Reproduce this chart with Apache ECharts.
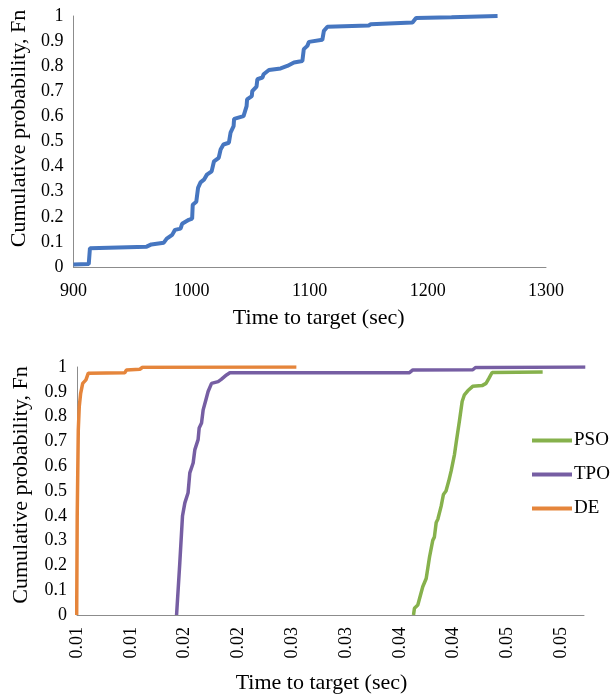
<!DOCTYPE html>
<html>
<head>
<meta charset="utf-8">
<script src="https://cdn.jsdelivr.net/npm/echarts@6/dist/echarts.min.js"></script>
<style>
  html, body { margin: 0; padding: 0; background: #fff; }
  #chart { width: 616px; height: 695px; }
</style>
</head>
<body>
<div id="chart"></div>
<script>
// top panel: single run, time in seconds vs cumulative probability
const topTime = [900, 913, 914, 930, 962, 966, 976.5, 979, 983.6, 986, 990.7, 992, 997.7, 1000.5, 1001, 1004, 1005.5,
  1007.6, 1010.5, 1013, 1017, 1019, 1023, 1024.6, 1027, 1031.6, 1033, 1035.6, 1036, 1044, 1046.6, 1047, 1051, 1051.4,
  1055, 1055.7, 1060, 1061, 1065.5, 1075.4, 1081, 1086.7, 1093.8, 1095, 1098, 1099.4, 1110.7, 1112, 1115, 1150,
  1151.7, 1187, 1190, 1220, 1259];
const topProb = [0.01, 0.012, 0.075, 0.077, 0.081, 0.09, 0.097, 0.113, 0.128, 0.148, 0.153, 0.172, 0.188, 0.193, 0.248,
  0.26, 0.315, 0.337, 0.348, 0.368, 0.381, 0.421, 0.435, 0.468, 0.488, 0.495, 0.535, 0.561, 0.59, 0.601, 0.641, 0.668,
  0.681, 0.701, 0.719, 0.748, 0.755, 0.768, 0.785, 0.791, 0.801, 0.815, 0.821, 0.868, 0.881, 0.897, 0.905, 0.941,
  0.957, 0.962, 0.967, 0.974, 0.992, 0.995, 1.0];

// bottom panel: three algorithms
const psoTime = [0.03826, 0.03835, 0.03866, 0.03912, 0.03944, 0.03975, 0.04005, 0.0402, 0.04037, 0.04052, 0.04083,
  0.04104, 0.04128, 0.04154, 0.04176, 0.04207, 0.04222, 0.04253, 0.04278, 0.04299, 0.0433, 0.04376, 0.04463,
  0.045, 0.04525, 0.04556, 0.05026];
const psoProb = [0, 0.027, 0.04, 0.114, 0.147, 0.234, 0.301, 0.314, 0.373, 0.386, 0.439, 0.486, 0.5, 0.541, 0.581,
  0.648, 0.694, 0.783, 0.861, 0.888, 0.904, 0.922, 0.925, 0.934, 0.953, 0.978, 0.98];

const tpoTime = [0.01625, 0.01655, 0.0168, 0.01702, 0.01732, 0.01748, 0.01779, 0.01795, 0.01825, 0.01835, 0.01857,
  0.01872, 0.01897, 0.01918, 0.0195, 0.02011, 0.0204, 0.02089, 0.0212, 0.03789, 0.0382, 0.04377, 0.04402, 0.05422];
const tpoProb = [0, 0.21, 0.399, 0.452, 0.493, 0.573, 0.613, 0.667, 0.707, 0.754, 0.774, 0.827, 0.867, 0.901, 0.934,
  0.941, 0.95, 0.968, 0.977, 0.977, 0.988, 0.989, 0.998, 1.0];

const deTime = [0.00697, 0.00702, 0.00712, 0.00721, 0.00734, 0.00753, 0.00783, 0.00805, 0.01145, 0.0116, 0.01284,
  0.01309, 0.02738];
const deProb = [0, 0.4, 0.747, 0.84, 0.894, 0.934, 0.948, 0.975, 0.977, 0.988, 0.991, 0.999, 1.0];

// tick positions of the bottom x axis (shown rounded to 2 decimals)
const bottomTicks = [0.007, 0.012, 0.017, 0.022, 0.027, 0.032, 0.037, 0.042, 0.047, 0.052];

const zip = (xs, ys) => xs.map((x, i) => [x, ys[i]]);

const FONT = 'Liberation Serif';
const axisGrey = '#8c8c8c';
const txt = { fontFamily: FONT, fontSize: 18, color: '#000' };
const titleTxt = { fontFamily: FONT, fontSize: 22, color: '#000' };

const yAxisCommon = {
  type: 'value', min: 0, max: 1, interval: 0.1,
  name: 'Cumulative probability, Fn',
  nameLocation: 'middle',
  axisLine: { show: true, lineStyle: { color: axisGrey, width: 1 } },
  axisTick: { show: false },
  splitLine: { show: false },
  axisLabel: { ...txt, margin: 10, formatter: v => String(Math.round(v * 10) / 10) }
};

const chart = echarts.init(document.getElementById('chart'));
chart.setOption({
  backgroundColor: '#fff',
  animation: false,
  grid: [
    { left: 73, top: 16, width: 473, height: 251 },
    { left: 77, top: 367, width: 507, height: 249 }
  ],
  legend: {
    orient: 'vertical',
    left: 527, top: 426,
    itemWidth: 40, itemHeight: 4, itemGap: 15,
    icon: 'rect',
    data: ['PSO', 'TPO', 'DE'],
    textStyle: { fontFamily: FONT, fontSize: 19, color: '#000', lineHeight: 19, padding: [0, 0, 0, -3] }
  },
  xAxis: [
    {
      gridIndex: 0, type: 'value', min: 900, max: 1300, interval: 100,
      name: 'Time to target (sec)', nameLocation: 'middle', nameGap: 40,
      nameTextStyle: { ...titleTxt, padding: [0, 0, 0, 18] },
      axisLine: { lineStyle: { color: axisGrey, width: 1 } },
      axisTick: { show: false },
      splitLine: { show: false },
      axisLabel: { ...txt, margin: 15, formatter: v => String(v) }
    },
    {
      gridIndex: 1, type: 'value', min: 0.007, max: 0.0541,
      name: 'Time to target (sec)', nameLocation: 'middle', nameGap: 57,
      nameTextStyle: { ...titleTxt, padding: [0, 18, 0, 0] },
      axisLine: { lineStyle: { color: axisGrey, width: 1 } },
      axisTick: { show: false, customValues: bottomTicks },
      splitLine: { show: false },
      axisLabel: { ...txt, margin: 12, rotate: 90, customValues: bottomTicks, formatter: v => v.toFixed(2) }
    }
  ],
  yAxis: [
    { gridIndex: 0, ...yAxisCommon, nameGap: 41, nameTextStyle: { ...titleTxt, padding: [0, 0, 0, 26] } },
    { gridIndex: 1, ...yAxisCommon, nameGap: 45, nameTextStyle: { ...titleTxt, padding: [0, 0, 0, 12] } }
  ],
  series: [
    {
      name: 'Time', type: 'line', xAxisIndex: 0, yAxisIndex: 0,
      data: zip(topTime, topProb), symbol: 'none',
      lineStyle: { color: '#4676c0', width: 4 }, itemStyle: { color: '#4676c0' }
    },
    {
      name: 'PSO', type: 'line', xAxisIndex: 1, yAxisIndex: 1,
      data: zip(psoTime, psoProb), symbol: 'none',
      lineStyle: { color: '#86b14c', width: 3.5 }, itemStyle: { color: '#86b14c' }
    },
    {
      name: 'TPO', type: 'line', xAxisIndex: 1, yAxisIndex: 1,
      data: zip(tpoTime, tpoProb), symbol: 'none',
      lineStyle: { color: '#765ea3', width: 3.5 }, itemStyle: { color: '#765ea3' }
    },
    {
      name: 'DE', type: 'line', xAxisIndex: 1, yAxisIndex: 1,
      data: zip(deTime, deProb), symbol: 'none',
      lineStyle: { color: '#e5853b', width: 3.5 }, itemStyle: { color: '#e5853b' }
    }
  ]
});
</script>
</body>
</html>
